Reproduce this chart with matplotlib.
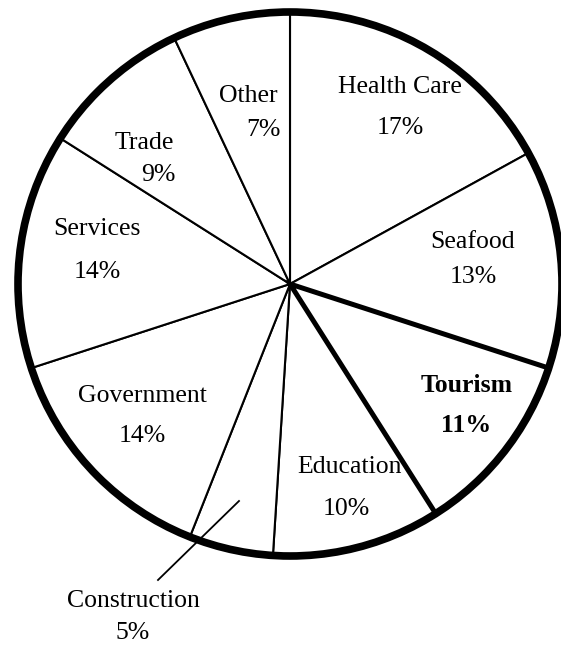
import matplotlib
matplotlib.use('Agg')
import matplotlib.pyplot as plt
from matplotlib.patches import Circle

# data, clockwise from 12 o'clock
sectors = ['Health Care', 'Seafood', 'Tourism', 'Education', 'Construction',
           'Government', 'Services', 'Trade', 'Other']
shares = [17, 13, 11, 10, 5, 14, 14, 9, 7]

W, H = 561, 646
# label spots in pixel coords of the picture (name, percent)
name_xy = [(400, 87), (473, 242), (467, 385), (350, 467), (133, 601),
           (142, 396), (97, 229), (144, 143), (248, 96)]
pct_xy = [(400, 128), (473, 277), (466, 425), (346, 509), (133, 633),
          (142, 436), (97, 272), (158, 175), (263, 130)]

plt.rcParams['font.family'] = ['Liberation Serif', 'DejaVu Serif']

fig = plt.figure(figsize=(W / 100, H / 100), dpi=100)
ax = fig.add_axes([0, 0, 1, 1])
ax.set_xlim(0, W)
ax.set_ylim(0, H)
ax.set_aspect('equal')
ax.axis('off')

cx, cy, r = 290, H - 284, 272
wedges, _ = ax.pie(shares, startangle=90, counterclock=False, center=(cx, cy),
                   radius=r, colors=['white'] * len(shares),
                   wedgeprops=dict(edgecolor='black', linewidth=1.5), frame=True)
ax.set_xlim(0, W)
ax.set_ylim(0, H)
ax.axis('off')

# tourism slice is outlined heavier
wedges[2].set_linewidth(3.6)
wedges[2].set_zorder(3)

ax.add_patch(Circle((cx, cy), r, fill=False, edgecolor='black', linewidth=5.5, zorder=4))

# leader for construction
ax.plot([239, 158], [H - 501, H - 580], color='black', linewidth=1.3, zorder=5)

for i, s in enumerate(sectors):
    weight = 'bold' if s == 'Tourism' else 'normal'
    ax.text(name_xy[i][0], H - name_xy[i][1], s, ha='center', va='center',
            fontsize=18.5, fontweight=weight, zorder=6)
    ax.text(pct_xy[i][0], H - pct_xy[i][1], f'{shares[i]}%', ha='center', va='center',
            fontsize=18.5, fontweight=weight, zorder=6)

fig.savefig('out.png', dpi=100)
